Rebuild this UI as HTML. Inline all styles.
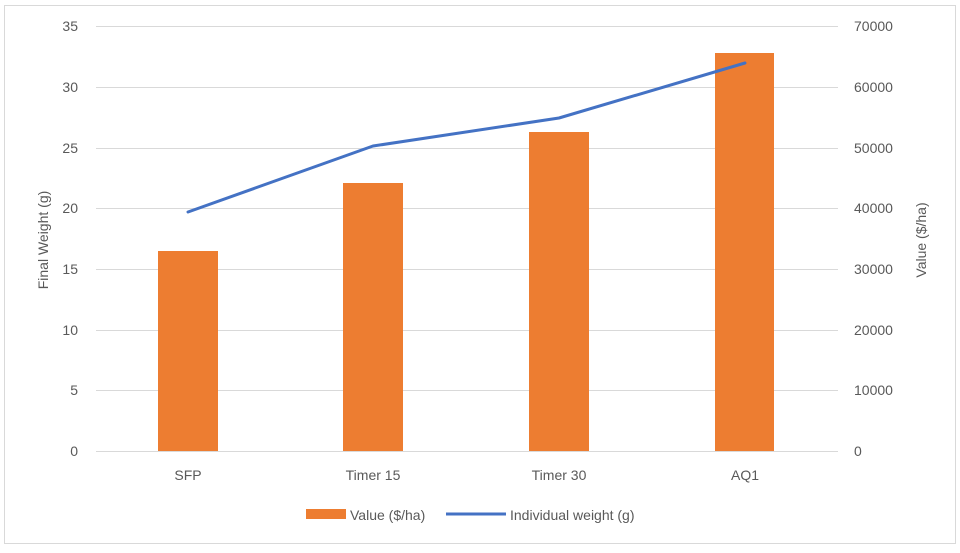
<!DOCTYPE html>
<html><head><style>body{margin:0;background:#fff}</style></head><body>
<svg width="960" height="548" xmlns="http://www.w3.org/2000/svg" font-family="Liberation Sans, sans-serif" font-size="14" fill="#595959">
<rect x="4.5" y="5.5" width="951" height="538" fill="#fff" stroke="#d9d9d9"/>
<g stroke="#d9d9d9" stroke-width="1">
<line x1="96" x2="838" y1="26.5" y2="26.5"/><line x1="96" x2="838" y1="87.5" y2="87.5"/>
<line x1="96" x2="838" y1="148.5" y2="148.5"/><line x1="96" x2="838" y1="208.5" y2="208.5"/>
<line x1="96" x2="838" y1="269.5" y2="269.5"/><line x1="96" x2="838" y1="330.5" y2="330.5"/>
<line x1="96" x2="838" y1="390.5" y2="390.5"/><line x1="96" x2="838" y1="451.5" y2="451.5"/>
</g>
<g text-anchor="end">
<text x="78" y="31">35</text><text x="78" y="92">30</text><text x="78" y="153">25</text><text x="78" y="213">20</text>
<text x="78" y="274">15</text><text x="78" y="335">10</text><text x="78" y="395">5</text><text x="78" y="456">0</text>
</g>
<g>
<text x="854" y="31">70000</text><text x="854" y="92">60000</text><text x="854" y="153">50000</text><text x="854" y="213">40000</text>
<text x="854" y="274">30000</text><text x="854" y="335">20000</text><text x="854" y="395">10000</text><text x="854" y="456">0</text>
</g>
<g fill="#ed7d31">
<rect x="158" y="251" width="60" height="200"/>
<rect x="343" y="183" width="60" height="268"/>
<rect x="529" y="132" width="60" height="319"/>
<rect x="715" y="53" width="59" height="398"/>
</g>
<polyline points="188,212 373,146 559,118 745,63" fill="none" stroke="#4472c4" stroke-width="3" stroke-linejoin="round" stroke-linecap="round"/>
<g text-anchor="middle">
<text x="188" y="480">SFP</text><text x="373" y="480">Timer 15</text><text x="559" y="480">Timer 30</text><text x="745" y="480">AQ1</text>
</g>
<text transform="translate(48,240) rotate(-90)" text-anchor="middle">Final Weight (g)</text>
<text transform="translate(926,240) rotate(-90)" text-anchor="middle">Value ($/ha)</text>
<rect x="306" y="509" width="40" height="10" fill="#ed7d31"/>
<text x="350" y="520">Value ($/ha)</text>
<line x1="446" x2="506" y1="514" y2="514" stroke="#4472c4" stroke-width="3"/>
<text x="510" y="520">Individual weight (g)</text>
</svg>
</body></html>
